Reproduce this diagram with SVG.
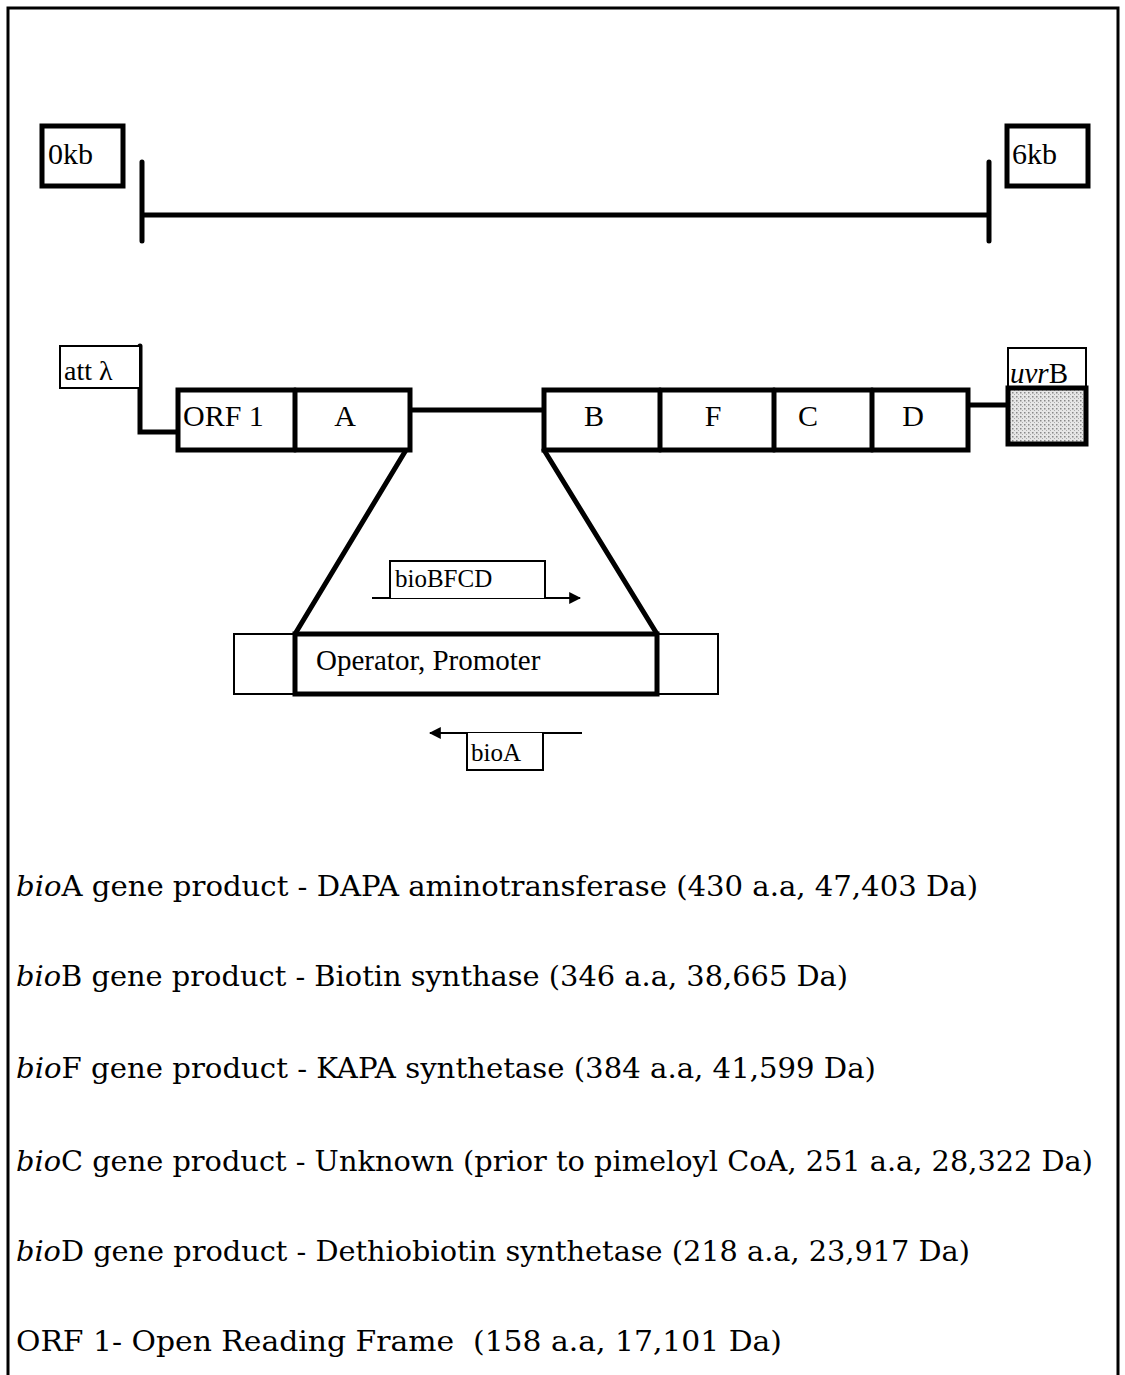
<svg xmlns="http://www.w3.org/2000/svg" width="1125" height="1375" viewBox="0 0 1125 1375">
<style>
text{font-family:"Liberation Serif","Times New Roman",serif;fill:#000}
.thick{fill:#fff;stroke:#000;stroke-width:5}
.thin{fill:#fff;stroke:#000;stroke-width:2}
.ln{stroke:#000;stroke-width:5;fill:none;stroke-linecap:round}
.ar{stroke:#000;stroke-width:2;fill:none}
.lbl{font-size:30px}
.desc{font-family:"DejaVu Serif","Liberation Serif",serif;font-size:28px}
</style>
<defs>
<pattern id="dots" width="4" height="4" patternUnits="userSpaceOnUse">
<rect width="4" height="4" fill="#e6e6e6"/>
<rect x="0" y="0" width="1.5" height="1.5" fill="#888"/>
<rect x="2" y="2" width="1" height="1" fill="#aaa"/>
</pattern>
<marker id="ah" viewBox="0 0 10 10" refX="9" refY="5" markerWidth="12" markerHeight="12" markerUnits="userSpaceOnUse" orient="auto">
<path d="M0,0 L10,5 L0,10 z" fill="#000"/>
</marker>
</defs>
<path d="M8,1375 V8 H1118 V1375" fill="none" stroke="#000" stroke-width="3"/>

<g id="scale">
<path class="ln" d="M142,162 V241 M989,162 V241 M142,215 H989"/>
</g>
<g id="label-0kb">
<rect class="thick" x="42" y="126" width="81" height="60"/>
<text class="lbl" x="48" y="164">0kb</text>
</g>
<g id="label-6kb">
<rect class="thick" x="1007" y="126" width="81" height="60"/>
<text class="lbl" x="1012" y="164">6kb</text>
</g>

<g id="connectors">
<path class="ln" d="M140,346 V432 H178" stroke-linecap="butt"/>
<path class="ln" d="M410,410 H544" stroke-linecap="butt"/>
<path class="ln" d="M968,405 H1008" stroke-linecap="butt"/>
<path class="ln" d="M406,450 L295,634 M544,450 L657,634" stroke-linecap="butt"/>
<path class="ar" d="M372,598 H580" marker-end="url(#ah)"/>
<path class="ar" d="M582,733 H430" marker-end="url(#ah)"/>
</g>

<g id="att">
<rect class="thin" x="60" y="346" width="80" height="42"/>
<text x="64" y="380" font-size="28px">att λ</text>
</g>

<g id="operon-left">
<rect class="thick" x="178" y="390" width="232" height="60"/>
<line class="ln" x1="295" y1="390" x2="295" y2="450" stroke-linecap="butt"/>
<text class="lbl" x="183" y="426">ORF 1</text>
<text class="lbl" x="345" y="426" text-anchor="middle">A</text>
</g>

<g id="operon-right">
<rect class="thick" x="544" y="390" width="424" height="60"/>
<path class="ln" d="M660,390 V450 M774,390 V450 M872,390 V450" stroke-linecap="butt"/>
<text class="lbl" x="594" y="426" text-anchor="middle">B</text>
<text class="lbl" x="713" y="426" text-anchor="middle">F</text>
<text class="lbl" x="808" y="426" text-anchor="middle">C</text>
<text class="lbl" x="913" y="426" text-anchor="middle">D</text>
</g>

<g id="uvrB">
<rect class="thin" x="1008" y="348" width="78" height="40"/>
<rect x="1008" y="388" width="78" height="56" fill="url(#dots)" stroke="#000" stroke-width="5"/>
<text x="1010" y="383" font-size="29px"><tspan font-style="italic">uvr</tspan>B</text>
</g>

<g id="operator">
<rect class="thin" x="234" y="634" width="484" height="60"/>
<rect class="thick" x="295" y="634" width="362" height="60"/>
<text x="316" y="670" font-size="29px">Operator, Promoter</text>
</g>

<g id="bioBFCD">
<path class="thin" d="M390,598 V561 H545 V598"/>
<text x="395" y="587" font-size="25px">bioBFCD</text>
</g>

<g id="bioA">
<path class="thin" d="M467,733 V770 H543 V733"/>
<text x="471" y="761" font-size="25px">bioA</text>
</g>

<g id="legend">
<text class="desc" x="16" y="896" textLength="962" lengthAdjust="spacingAndGlyphs"><tspan font-style="italic">bio</tspan>A gene product - DAPA aminotransferase (430 a.a, 47,403 Da)</text>
<text class="desc" x="16" y="986" textLength="832" lengthAdjust="spacingAndGlyphs"><tspan font-style="italic">bio</tspan>B gene product - Biotin synthase (346 a.a, 38,665 Da)</text>
<text class="desc" x="16" y="1078" textLength="860" lengthAdjust="spacingAndGlyphs"><tspan font-style="italic">bio</tspan>F gene product - KAPA synthetase (384 a.a, 41,599 Da)</text>
<text class="desc" x="16" y="1171" textLength="1077" lengthAdjust="spacingAndGlyphs"><tspan font-style="italic">bio</tspan>C gene product - Unknown (prior to pimeloyl CoA, 251 a.a, 28,322 Da)</text>
<text class="desc" x="16" y="1261" textLength="954" lengthAdjust="spacingAndGlyphs"><tspan font-style="italic">bio</tspan>D gene product - Dethiobiotin synthetase (218 a.a, 23,917 Da)</text>
<text class="desc" x="16" y="1351" textLength="766" lengthAdjust="spacingAndGlyphs">ORF 1- Open Reading Frame&#160; (158 a.a, 17,101 Da)</text>
</g>
</svg>
